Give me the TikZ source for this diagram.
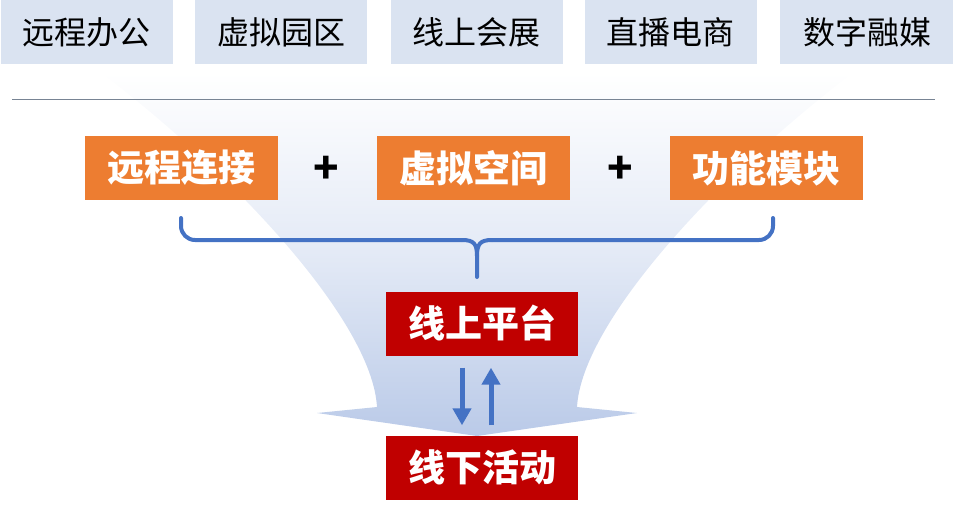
\documentclass[tikz,border=0pt]{standalone}
\usepackage{fontspec}
\setmainfont{Noto Sans CJK SC}
\usetikzlibrary{arrows.meta}
\definecolor{topbox}{RGB}{218,227,241}
\definecolor{orng}{RGB}{237,125,49}
\definecolor{dred}{RGB}{192,0,0}
\definecolor{bblue}{RGB}{68,114,196}
\definecolor{funnelc}{RGB}{186,202,232}
\definecolor{rulec}{RGB}{120,132,148}
\begin{document}
\begin{tikzpicture}[x=1pt,y=-1pt,
  topcat/.style={fill=topbox, minimum width=172pt, minimum height=64pt, inner sep=0pt, font=\fontsize{32}{36}\selectfont, text=black},
  comp/.style={fill=orng, minimum width=193pt, minimum height=64pt, inner sep=0pt, font=\fontsize{37}{40}\selectfont\bfseries, text=white},
  plat/.style={fill=dred, minimum width=192pt, minimum height=64pt, inner sep=0pt, font=\fontsize{37}{40}\selectfont\bfseries, text=white},
  plus/.style={font=\fontsize{42}{42}\selectfont\bfseries, text=black, inner sep=0pt},
  link/.style={draw=bblue, line width=5pt, -{Triangle[width=18pt,length=17pt]}},
  bracec/.style={draw=bblue, line width=4pt, line cap=round}]
\useasboundingbox (0,0) rectangle (953,514);
% funnel
\shade[top color=white, bottom color=funnelc, middle color=funnelc!40]
  (100,72) .. controls (230,170) and (372,320) .. (377,407)
  -- (317,413) -- (477,436) -- (637,413) -- (577,407)
  .. controls (582,320) and (724,170) .. (854,72) -- cycle;
% top categories
\node[topcat] (t1) at (87,32) {远程办公};
\node[topcat] (t2) at (281,32) {虚拟园区};
\node[topcat] (t3) at (476.5,32) {线上会展};
\node[topcat] (t4) at (670.5,32) {直播电商};
\node[topcat, minimum width=174pt] (t5) at (867,32) {数字融媒};
% separator
\coordinate (rl) at (12,99);
\coordinate (rr) at (935,99);
\draw[rulec, line width=0.9pt] (rl) -- (rr);
% components
\node[comp] (c1) at (181,168) {远程连接};
\node[comp] (c2) at (473.5,168) {虚拟空间};
\node[comp] (c3) at (766,168) {功能模块};
\node[plus] (p1) at (326,170) {+};
\node[plus] (p2) at (620,170) {+};
% brace
\coordinate (bl) at (181,218);
\coordinate (br) at (773,218);
\coordinate (bm) at (477,256);
\coordinate (bs) at (477,277);
\draw[bracec, rounded corners=14pt] (bl) |- (462,240);
\draw[bracec] (462,240) .. controls (474,240) and (477,244) .. (bm) -- (bs);
\draw[bracec, rounded corners=14pt] (br) |- (492,240);
\draw[bracec] (492,240) .. controls (480,240) and (477,244) .. (bm);
% platforms
\node[plat] (on) at (482,323.5) {线上平台};
\node[plat] (off) at (482,467.5) {线下活动};
\draw[link, shorten <=12pt, shorten >=10pt] ([xshift=-20pt]on.south) -- ([xshift=-20pt]off.north);
\draw[link, shorten <=10pt, shorten >=12pt] ([xshift=9pt]off.north) -- ([xshift=9pt]on.south);
\end{tikzpicture}
\end{document}
